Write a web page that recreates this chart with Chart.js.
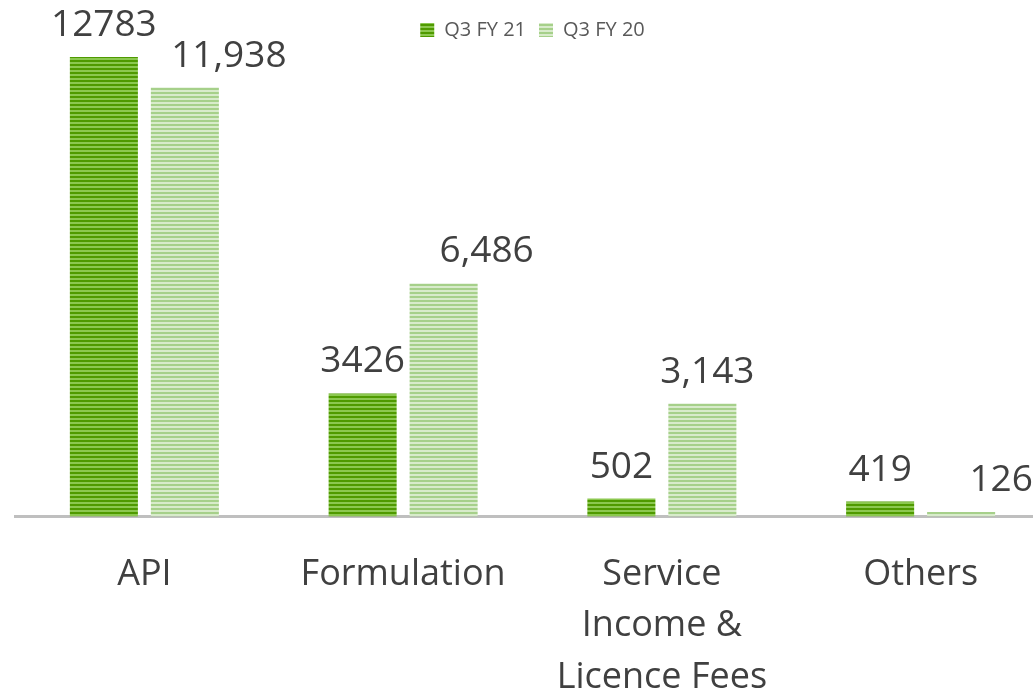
<!DOCTYPE html>
<html>
<head>
<meta charset="utf-8">
<script src="https://cdn.jsdelivr.net/npm/chart.js@4"></script>
<style>
  html, body { margin: 0; padding: 0; background: #fff; overflow: hidden; }
  #wrap { position: relative; width: 1070px; height: 735px; }
</style>
</head>
<body>
<div id="wrap"><canvas id="revChart"></canvas></div>
<script>
const categories = [['API'], ['Formulation'], ['Service', 'Income &', 'Licence Fees'], ['Others']];
const seriesNames = ['Q3 FY 21', 'Q3 FY 20'];
const fy21Values = [12783, 3426, 502, 419];
const fy20Values = [11938, 6486, 3143, 126];
const fy21Labels = ['12783', '3426', '502', '419'];
const fy20Labels = ['11,938', '6,486', '3,143', '126'];

// striped fill like the original office chart
function stripes(dark, light) {
    const c = document.createElement('canvas');
    c.width = 4; c.height = 4;
    const g = c.getContext('2d');
    g.fillStyle = light;
    g.fillRect(0, 0, 4, 4);
    g.fillStyle = dark;
    g.fillRect(0, 0, 4, 2);
    return g.createPattern(c, 'repeat');
}

const ctx = document.getElementById('revChart').getContext('2d');
const fill21 = stripes('#4f9a00', '#8cc850');
const fill20 = stripes('#a6d08a', '#d8ebcb');

// the original nudges some FY20 labels to the right so they don't collide
const labelShift = [[0, 0, 0, 0], [44, 43, 5, 40]];

// value labels above bars
const valueLabels = {
    id: 'valueLabels',
    afterDatasetsDraw(chart) {
        const c = chart.ctx;
        c.save();
        c.font = '37px "Open Sans", sans-serif';
        c.fillStyle = '#404040';
        c.textAlign = 'center';
        c.textBaseline = 'bottom';
        const texts = [fy21Labels, fy20Labels];
        chart.data.datasets.forEach((ds, i) => {
            chart.getDatasetMeta(i).data.forEach((bar, j) => {
                c.fillText(texts[i][j], bar.x + labelShift[i][j], bar.y - 13);
            });
        });
        c.restore();
    }
};

new Chart(ctx, {
    type: 'bar',
    data: {
        labels: categories,
        datasets: [
            { label: seriesNames[0], data: fy21Values, backgroundColor: fill21, borderWidth: 0 },
            { label: seriesNames[1], data: fy20Values, backgroundColor: fill20, borderWidth: 0 }
        ]
    },
    options: {
        responsive: true,
        maintainAspectRatio: false,
        animation: false,
        categoryPercentage: 0.626,
        barPercentage: 0.84,
        layout: { padding: { left: 15, right: 20, top: 7, bottom: 0 } },
        plugins: {
            legend: {
                position: 'top',
                labels: {
                    boxWidth: 14,
                    boxHeight: 14,
                    font: { size: 20, family: '"Open Sans", sans-serif' },
                    color: '#595959',
                    padding: 13
                }
            },
            tooltip: { enabled: false }
        },
        scales: {
            x: {
                grid: { display: false, drawTicks: false },
                border: { color: '#bfbfbf', width: 3 },
                ticks: {
                    color: '#404040',
                    font: { size: 36, family: '"Open Sans", sans-serif', lineHeight: 1.43 },
                    padding: 32,
                    maxRotation: 0
                }
            },
            y: {
                display: false,
                min: 0,
                max: 12980
            }
        }
    },
    plugins: [valueLabels]
});
</script>
</body>
</html>
